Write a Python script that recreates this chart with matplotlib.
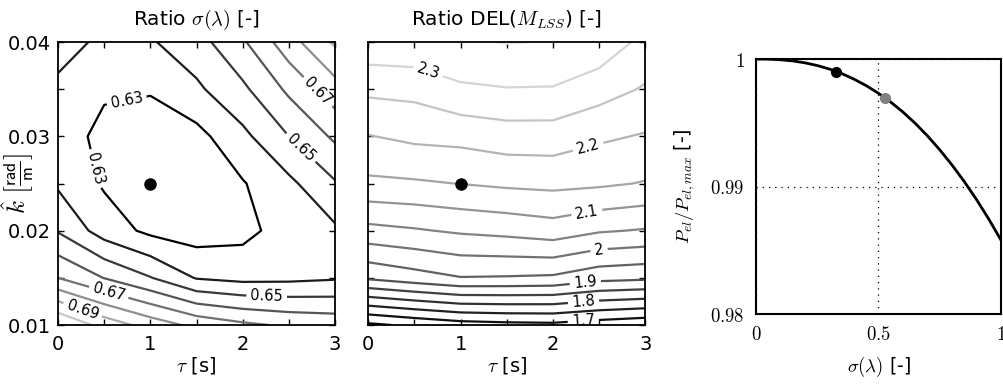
import numpy as np
import matplotlib.pyplot as plt
from matplotlib.colors import Normalize

plt.rcParams["mathtext.fontset"] = "cm"
plt.rcParams["font.family"] = "DejaVu Sans"
plt.rcParams["font.size"] = 14

# ===== 1. Data =====
tau = [0.0, 0.5, 1.0, 1.5, 2.0, 2.5, 3.0]
k_hat = [0.010, 0.015, 0.020, 0.025, 0.030, 0.035, 0.040]

# rows follow k_hat, columns follow tau
sigma_ratio = [
    [0.7105, 0.6961, 0.6858, 0.6772, 0.6720, 0.6685, 0.6667],
    [0.6700, 0.6597, 0.6505, 0.6393, 0.6370, 0.6375, 0.6389],
    [0.6492, 0.6353, 0.6277, 0.6250, 0.6270, 0.6345, 0.6383],
    [0.6385, 0.6288, 0.6240, 0.6235, 0.6293, 0.6377, 0.6491],
    [0.6350, 0.6272, 0.6245, 0.6268, 0.6375, 0.6500, 0.6618],
    [0.6370, 0.6314, 0.6309, 0.6382, 0.6480, 0.6620, 0.6759],
    [0.6458, 0.6370, 0.6390, 0.6460, 0.6586, 0.6759, 0.6916],
]
sigma_plain = [0.64, 0.66, 0.68, 0.70, 0.71]
sigma_labeled = [0.63, 0.65, 0.67, 0.69]

del_ratio = [
    [1.640, 1.660, 1.678, 1.685, 1.688, 1.674, 1.662],
    [1.908, 1.929, 1.948, 1.946, 1.942, 1.917, 1.910],
    [2.035, 2.045, 2.057, 2.065, 2.077, 2.055, 2.046],
    [2.140, 2.144, 2.151, 2.159, 2.163, 2.158, 2.147],
    [2.198, 2.211, 2.215, 2.226, 2.226, 2.208, 2.196],
    [2.261, 2.265, 2.292, 2.298, 2.297, 2.272, 2.245],
    [2.336, 2.340, 2.345, 2.352, 2.348, 2.335, 2.285],
]
del_plain = [1.65, 1.75, 1.85, 1.95, 2.05, 2.15, 2.25, 2.35]
del_labeled = [1.7, 1.8, 1.9, 2.0, 2.1, 2.2, 2.3]

# chosen operating point
tau_opt = 1.0
k_opt = 0.025

# power curve
sigma_lam = [0.00, 0.05, 0.10, 0.15, 0.20, 0.25, 0.30, 0.35, 0.40, 0.45, 0.50,
             0.55, 0.60, 0.65, 0.70, 0.75, 0.80, 0.85, 0.90, 0.95, 1.00]
p_el = [1.00000, 0.99999, 0.99994, 0.99985, 0.99970, 0.99949, 0.99921,
        0.99886, 0.99842, 0.99791, 0.99731, 0.99662, 0.99584, 0.99495,
        0.99397, 0.99288, 0.99169, 0.99039, 0.98898, 0.98745, 0.98580]
pts_sigma = [0.327, 0.527]
pts_p = [0.99895, 0.99697]
pts_color = ["black", "#808080"]

# label positions (tau, k)
sigma_label_pos = [(0.75, 0.0335), (0.38, 0.0265), (2.63, 0.0288),
                   (2.78, 0.0344), (2.26, 0.0130), (0.55, 0.0135),
                   (0.27, 0.0117)]
del_label_pos = [(0.65, 0.0369), (2.39, 0.0286), (2.37, 0.0218),
                 (2.5, 0.0179), (2.35, 0.0146), (2.33, 0.0126),
                 (2.33, 0.0104)]

# ===== 2. Figure =====
fig = plt.figure(figsize=(10.04, 3.85), dpi=100)
ax1 = fig.add_axes([0.0578, 0.1558, 0.2759, 0.7351])
ax2 = fig.add_axes([0.3668, 0.1558, 0.2759, 0.7351])
ax3 = fig.add_axes([0.7530, 0.1844, 0.2440, 0.6623])

T, K = np.meshgrid(tau, k_hat)


def contour_panel(ax, Z, plain, labeled, label_pos, vmin, vmax):
    norm = Normalize(vmin=vmin, vmax=vmax)
    Z = np.array(Z)
    ax.contour(T, K, Z, levels=plain, cmap="gray", norm=norm, linewidths=1.6)
    cs = ax.contour(T, K, Z, levels=labeled, cmap="gray", norm=norm,
                    linewidths=1.6)
    ax.clabel(cs, inline=True, fmt="%g", fontsize=10.5, colors="black",
              manual=label_pos, inline_spacing=4)
    ax.plot(tau_opt, k_opt, "o", color="black", markersize=8)
    ax.set_xlim(0, 3)
    ax.set_ylim(0.01, 0.04)
    ax.set_xticks(tau)
    ax.set_xticklabels(["0", "", "1", "", "2", "", "3"])
    ax.set_yticks(k_hat)
    ax.set_yticklabels(["0.01", "", "0.02", "", "0.03", "", "0.04"])
    ax.tick_params(direction="in", length=4, width=1, top=True, right=True)
    ax.tick_params(axis="x", pad=7)
    ax.tick_params(axis="y", pad=5)
    ax.set_xlabel(r"$\tau$ [s]", fontsize=14, labelpad=1)
    for sp in ax.spines.values():
        sp.set_linewidth(1.3)


contour_panel(ax1, sigma_ratio, sigma_plain, sigma_labeled,
              sigma_label_pos, 0.63, 0.72)
ax1.set_title(r"Ratio $\sigma(\lambda)$ [-]", fontsize=14.5, pad=12)
ax1.set_ylabel(r"$\hat{k}\ \left[\frac{\mathsf{rad}}{\mathsf{m}}\right]$",
               fontsize=18)
ax1.yaxis.set_label_coords(-0.08, 0.5)

contour_panel(ax2, del_ratio, del_plain, del_labeled,
              del_label_pos, 1.65, 2.43)
ax2.set_title(r"Ratio DEL($M_{LSS}$) [-]", fontsize=14.5, pad=12)
ax2.tick_params(labelleft=False)

# ===== 3. Power curve =====
ax3.plot(sigma_lam, p_el, color="black", linewidth=2)
for s, p, c in zip(pts_sigma, pts_p, pts_color):
    ax3.plot(s, p, "o", color=c, markersize=7, zorder=3)
ax3.set_xlim(0, 1)
ax3.set_ylim(0.98, 1.0)
ax3.set_xticks([0, 0.5, 1])
ax3.set_xticklabels(["$0$", "$0.5$", "$1$"], fontsize=13.5)
ax3.set_yticks([0.98, 0.99, 1.0])
ax3.set_yticklabels(["$0.98$", "$0.99$", "$1$"], fontsize=13.5)
ax3.tick_params(length=0, pad=8)
ax3.grid(True, linestyle=(0, (1, 4)), color="black", linewidth=0.9)
ax3.set_xlabel(r"$\sigma(\lambda)$ [-]", fontsize=13.5, labelpad=8)
ax3.set_ylabel(r"$P_{el}/P_{el,max}$ [-]", fontsize=13.5, labelpad=10)
for sp in ax3.spines.values():
    sp.set_linewidth(1.5)

plt.savefig("out.png", dpi=100)
